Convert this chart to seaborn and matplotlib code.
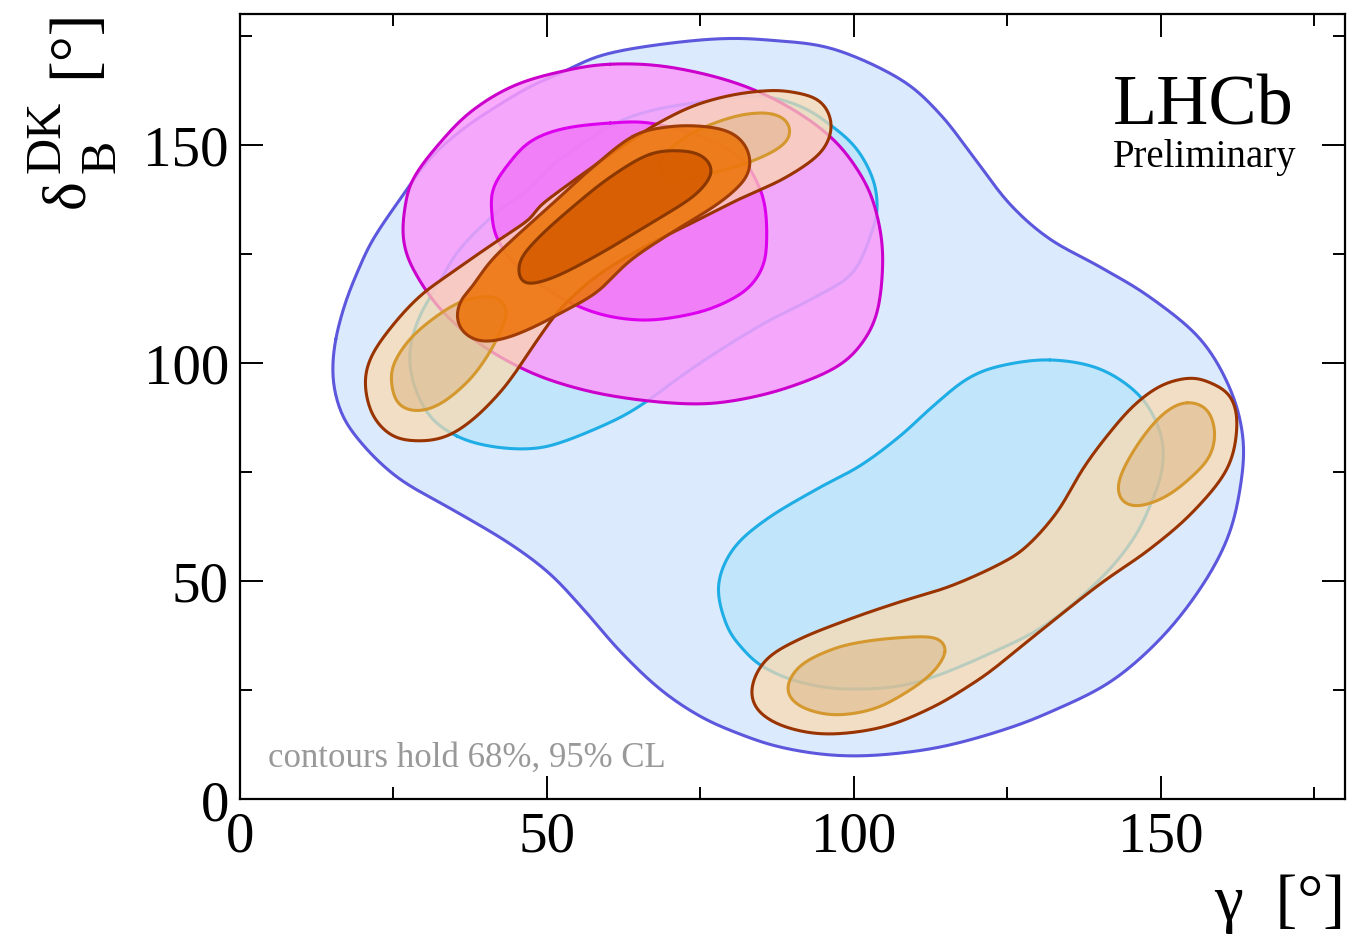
import numpy as np
import matplotlib
matplotlib.use("Agg")
import matplotlib.pyplot as plt
import seaborn as sns
import pandas as pd

# ---- contour outlines (gamma [deg], delta_B^DK [deg]) ----
# combined B->DK fit, 95% CL
comb95_g = [15.6, 17.1, 19.2, 21.7, 26.1, 30.9, 36.3, 41.9, 47.2, 52.6, 58.6, 66.8, 77.7, 86.3,
            96.6, 107.5, 114.0, 119.7, 125.4, 131.9, 140.1, 148.2, 156.4, 161.3, 163.4, 162.9,
            160.8, 156.4, 149.9, 141.7, 131.9, 123.8, 114.0, 104.2, 96.1, 88.0, 81.4, 74.9, 68.4,
            61.9, 56.2, 50.5, 44.0, 35.8, 27.7, 23.6, 19.9, 17.1, 15.6, 15.1]
comb95_d = [105.5, 113.5, 121.1, 128.4, 137.6, 146.8, 153.6, 158.9, 163.3, 166.7, 170.4, 172.7,
            174.3, 174.0, 172.0, 165.1, 157.1, 146.8, 136.4, 128.4, 122.0, 115.1, 105.5, 94.0,
            82.5, 71.1, 59.6, 48.2, 36.7, 26.8, 19.9, 15.6, 11.9, 10.1, 10.1, 11.9, 14.9, 19.0,
            25.2, 33.9, 43.1, 51.6, 58.5, 65.4, 71.8, 76.1, 81.4, 86.8, 92.5, 98.5]

# combined fit, 68% CL (two islands)
comb68a_g = [35.3, 30.9, 28.2, 27.7, 29.3, 32.1, 35.8, 41.9, 47.2, 51.6, 60.3, 66.8, 74.9, 84.2,
             91.2, 96.6, 100.5, 103.1, 103.8, 103.1, 99.9, 94.0, 85.8, 77.7, 71.2, 66.8, 61.4,
             52.6, 47.2, 40.7]
comb68a_d = [83.2, 87.8, 95.6, 103.2, 110.8, 117.6, 126.1, 134.6, 139.9, 146.1, 154.3, 157.8,
             159.8, 161.2, 158.9, 154.1, 149.0, 142.2, 136.0, 130.7, 120.8, 115.3, 109.4, 102.5,
             96.3, 91.7, 87.1, 81.9, 80.3, 80.9]
comb68b_g = [131.9, 140.1, 146.6, 149.9, 150.3, 148.7, 145.5, 140.1, 131.9, 123.8, 110.3, 99.4,
             91.2, 85.2, 81.9, 79.3, 77.9, 80.3, 85.8, 94.0, 101.0, 107.5, 112.9, 118.4, 123.8]
comb68b_d = [100.7, 98.6, 92.4, 84.1, 76.4, 68.8, 59.6, 50.4, 40.6, 34.4, 26.8, 25.2, 26.8, 30.3,
             34.4, 39.7, 48.8, 57.3, 64.2, 71.1, 76.4, 83.2, 90.1, 96.3, 99.3]

# GLW/ADS-type measurement, 95% and 68% CL
glw95_g = [60.3, 69.6, 80.3, 89.1, 96.6, 101.5, 103.8, 104.7, 103.8, 101.0, 96.6, 88.5, 80.3,
           73.3, 64.0, 55.4, 47.2, 39.1, 32.6, 28.2, 26.6, 26.9, 28.2, 32.1, 37.5, 44.5, 52.6]
glw95_d = [168.5, 167.9, 164.4, 158.9, 151.3, 142.2, 133.7, 123.8, 111.7, 103.9, 98.6, 94.0,
           91.3, 90.6, 91.7, 94.0, 97.9, 104.3, 112.4, 121.5, 128.4, 136.0, 142.2, 149.7, 157.5,
           163.5, 166.9]
glw68_g = [60.3, 66.8, 74.9, 81.4, 84.2, 85.5, 85.8, 85.2, 82.6, 77.7, 72.2, 65.6, 58.6, 52.1,
           45.6, 41.9, 41.0, 41.2, 43.5, 47.2, 52.6]
glw68_d = [155.0, 155.0, 152.0, 147.2, 141.5, 136.0, 128.4, 122.2, 116.9, 113.0, 110.8, 109.8,
           111.2, 115.1, 121.5, 128.4, 134.6, 139.9, 145.2, 150.7, 153.7]

# GGSZ-type measurement, 95% CL (two bands) and 68% CL (four islands)
ggsz95a_g = [84.7, 89.1, 94.0, 96.1, 96.1, 94.0, 88.5, 81.4, 74.9, 66.8, 58.6, 52.6, 48.9, 45.6,
             42.4, 38.0, 33.7, 29.3, 24.9, 21.7, 20.4, 21.2, 24.4, 29.3, 35.3, 40.7, 47.2, 49.2,
             58.6, 64.0, 68.4, 73.8, 79.4]
ggsz95a_d = [162.3, 162.3, 160.5, 156.6, 152.0, 147.4, 142.2, 137.6, 133.0, 127.3, 120.4, 113.0,
             106.2, 99.3, 93.3, 87.1, 83.2, 82.1, 83.2, 87.8, 94.7, 100.9, 107.8, 115.3, 121.5,
             126.8, 133.0, 136.4, 146.1, 151.3, 155.2, 158.9, 161.2]
ggsz95b_g = [154.3, 157.5, 161.3, 162.4, 160.8, 155.2, 148.2, 140.1, 130.8, 123.8, 119.7, 112.9,
             104.7, 95.6, 88.5, 84.2, 83.4, 85.8, 91.2, 99.4, 107.5, 115.7, 123.8, 128.2, 133.1,
             137.3, 141.2, 145.5, 149.9]
ggsz95b_d = [96.5, 95.8, 92.4, 85.5, 75.7, 65.8, 57.3, 49.3, 39.0, 31.0, 26.8, 21.1, 16.5, 14.9,
             16.7, 20.6, 25.9, 32.1, 36.7, 41.3, 45.2, 48.8, 53.9, 58.0, 65.8, 75.7, 83.2, 90.1,
             94.7]
ggsz68a_g = [42.8, 40.7, 36.3, 32.1, 27.7, 24.9, 24.8, 26.1, 29.3, 33.1, 37.5, 40.7, 42.8, 43.5]
ggsz68a_d = [114.0, 115.3, 114.2, 110.8, 105.5, 99.3, 94.0, 90.1, 89.0, 91.0, 96.3, 102.5, 108.5,
             111.7]
ggsz68b_g = [86.8, 89.1, 89.6, 87.5, 83.1, 77.7, 72.2, 68.9, 68.4, 70.5, 74.9, 80.3, 84.2]
ggsz68b_d = [157.1, 155.5, 152.0, 149.0, 146.1, 143.8, 142.2, 142.9, 146.1, 149.7, 153.6, 156.4,
             157.3]
ggsz68c_g = [115.0, 114.5, 112.9, 108.6, 102.1, 96.6, 91.2, 89.1, 91.2, 96.6, 103.1, 108.6, 112.9]
ggsz68c_d = [33.7, 36.0, 37.1, 37.1, 36.2, 34.4, 30.5, 25.2, 21.3, 19.3, 20.6, 24.5, 29.1]
ggsz68d_g = [154.3, 157.5, 158.8, 158.0, 155.2, 151.0, 146.6, 143.8, 143.0, 144.5, 147.7, 151.0]
ggsz68d_d = [91.0, 89.4, 84.2, 78.7, 74.1, 69.5, 67.2, 68.1, 71.8, 77.3, 84.2, 89.0]

# GLW+GGSZ combination, 95% and 68% CL
dk95_g = [64.0, 69.6, 74.9, 79.3, 81.9, 83.1, 82.6, 80.3, 76.6, 70.0, 63.5, 58.2, 52.6, 47.2,
          42.8, 39.1, 36.3, 35.3, 36.1, 37.5, 40.7, 44.5, 50.5, 57.0]
dk95_d = [152.0, 154.1, 154.3, 153.2, 150.7, 146.8, 142.9, 139.2, 135.3, 129.6, 123.4, 116.3,
          111.7, 107.8, 105.5, 105.0, 107.1, 110.8, 114.7, 116.9, 123.1, 128.4, 136.0, 144.3]
dk68_g = [66.8, 72.2, 75.4, 76.9, 76.1, 73.3, 66.8, 58.6, 51.6, 47.2, 45.6, 45.6, 48.4, 53.8,
          60.3]
dk68_d = [147.9, 148.6, 147.4, 144.5, 141.5, 137.6, 131.9, 125.0, 119.9, 118.1, 119.2, 123.4,
          128.4, 135.3, 142.6]

TICKS = [0, 50, 100, 150]

# approximate screen aspect of one degree along each axis, used to smooth isotropically
SX, SY = 6.14, 4.36


def closed_curve(gs, ds, n=24, sigma=6.0):
    """Smooth closed curve through the outline vertices (Catmull-Rom + light smoothing)."""
    p = np.column_stack([np.asarray(gs) * SX, np.asarray(ds) * SY]).astype(float)
    m = len(p)
    t = np.linspace(0, 1, n, endpoint=False)[:, None]
    segs = []
    for i in range(m):
        p0, p1, p2, p3 = p[(i - 1) % m], p[i], p[(i + 1) % m], p[(i + 2) % m]
        segs.append(0.5 * (2 * p1 + (-p0 + p2) * t
                           + (2 * p0 - 5 * p1 + 4 * p2 - p3) * t ** 2
                           + (-p0 + 3 * p1 - 3 * p2 + p3) * t ** 3))
    c = np.vstack(segs)
    # resample uniformly in arc length
    cc = np.vstack([c, c[:1]])
    s = np.concatenate([[0], np.cumsum(np.hypot(*np.diff(cc, axis=0).T))])
    L = s[-1]
    k = 800
    su = np.linspace(0, L, k, endpoint=False)
    x = np.interp(su, s, cc[:, 0])
    y = np.interp(su, s, cc[:, 1])
    # periodic gaussian smoothing
    f = np.fft.fftfreq(k, d=L / k)
    g = np.exp(-0.5 * (2 * np.pi * f * sigma) ** 2)
    x = np.real(np.fft.ifft(np.fft.fft(x) * g))
    y = np.real(np.fft.ifft(np.fft.fft(y) * g))
    x = np.append(x, x[0]) / SX
    y = np.append(y, y[0]) / SY
    return pd.DataFrame({"gamma": x, "delta": y})


_z = [1.0]


def region(ax, gs, ds, face, alpha, edge, lw):
    c = closed_curve(gs, ds)
    z = _z[0]
    _z[0] += 1.0
    ax.fill(c["gamma"], c["delta"], color=face, alpha=alpha, lw=0, zorder=z)
    sns.lineplot(data=c, x="gamma", y="delta", sort=False, estimator=None,
                 color=edge, lw=lw, ax=ax, zorder=z + 0.5)


sns.set_theme(style="ticks")
serif = ["Liberation Serif", "DejaVu Serif"]
plt.rcParams["font.family"] = serif

fig = plt.figure(figsize=(13.53, 9.37), dpi=100)
ax = fig.add_axes([0.1774, 0.1462, 0.8167, 0.8378])

# combined fit
region(ax, comb95_g, comb95_d, "#dbeafd", 1.0, "#5c57dc", 2.2)
region(ax, comb68a_g, comb68a_d, "#c1e5fa", 1.0, "#1fade6", 2.2)
region(ax, comb68b_g, comb68b_d, "#c1e5fa", 1.0, "#1fade6", 2.2)
# GLW/ADS
region(ax, glw95_g, glw95_d, "#fa9cfb", 0.85, "#cc00cc", 2.2)
region(ax, glw68_g, glw68_d, "#f078f8", 0.85, "#dd00ee", 2.2)
# GGSZ
region(ax, ggsz95a_g, ggsz95a_d, "#fcdaae", 0.7, "#993300", 2.2)
region(ax, ggsz95b_g, ggsz95b_d, "#fcdaae", 0.7, "#993300", 2.2)
for gs, ds in [(ggsz68a_g, ggsz68a_d), (ggsz68b_g, ggsz68b_d),
               (ggsz68c_g, ggsz68c_d), (ggsz68d_g, ggsz68d_d)]:
    region(ax, gs, ds, "#dcb482", 0.5, "#d4982e", 2.2)
# GLW+GGSZ
region(ax, dk95_g, dk95_d, "#ed760d", 0.9, "#a03c05", 2.2)
region(ax, dk68_g, dk68_d, "#d75c01", 0.9, "#8a3700", 2.2)

ax.set_xlim(0, 180)
ax.set_ylim(0, 180)
ax.set_xticks(TICKS)
ax.set_yticks(TICKS)
ax.set_xticks(np.arange(25, 180, 50), minor=True)
ax.set_yticks(np.arange(25, 180, 50), minor=True)
ax.tick_params(which="both", direction="in", top=True, right=True, width=1.4,
               color="black", labelsize=41, labelcolor="black")
ax.tick_params(which="major", length=16.5, pad=8)
ax.tick_params(which="minor", length=8.5)
for s in ax.spines.values():
    s.set_linewidth(1.6)
    s.set_color("black")
    s.set_zorder(100)
ax.xaxis.set_zorder(100)
ax.yaxis.set_zorder(100)
ax.grid(False)
ax.set_ylabel("")

ax.set_xlabel("γ  [°]", fontsize=47, loc="right", labelpad=8, color="black")

# vertical axis title: δ with subscript B and superscript DK, then the unit
W, H = 1353.0, 937.0
ylab = dict(rotation=90, rotation_mode="anchor", ha="left", va="baseline", color="black")
fig.text(83 / W, 1 - 208 / H, "δ", fontsize=44, **ylab)
fig.text(60 / W, 1 - 173 / H, "DK", fontsize=36, **ylab)
fig.text(115 / W, 1 - 173 / H, "B", fontsize=36, **ylab)
fig.text(91 / W, 1 - 78 / H, "[°]", fontsize=47, **ylab)

ax.text(0.790, 0.860, "LHCb", transform=ax.transAxes, fontsize=52, va="baseline",
        ha="left", color="black", zorder=200)
ax.text(0.790, 0.806, "Preliminary", transform=ax.transAxes, fontsize=28,
        va="baseline", ha="left", color="black", zorder=200)
ax.text(0.0253, 0.042, "contours hold 68%, 95% CL", transform=ax.transAxes,
        fontsize=25, va="baseline", ha="left", color="#999999", zorder=200)

fig.savefig("out.png", dpi=100, facecolor="white")
